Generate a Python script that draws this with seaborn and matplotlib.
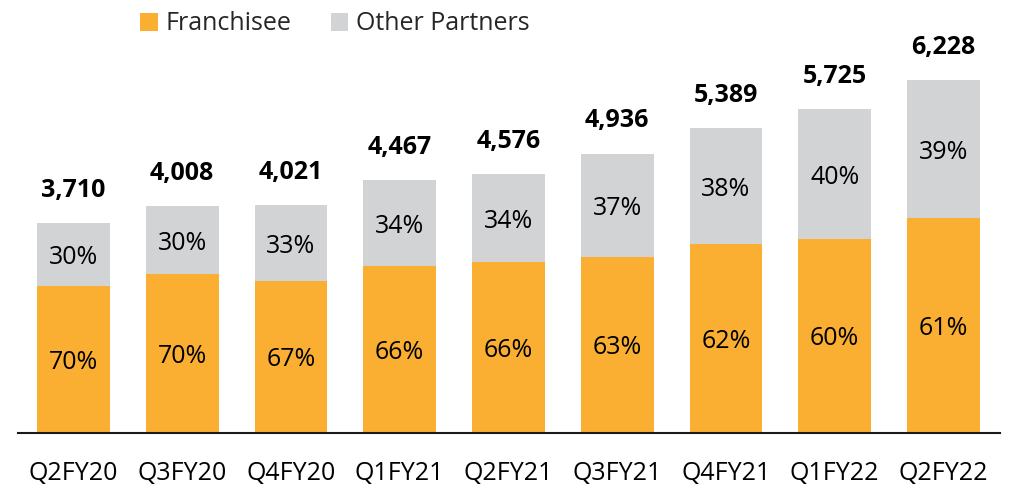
import matplotlib
matplotlib.use("Agg")
import matplotlib.pyplot as plt
import seaborn as sns
import pandas as pd
from matplotlib.patches import Patch

quarters = ["Q2FY20", "Q3FY20", "Q4FY20", "Q1FY21", "Q2FY21",
            "Q3FY21", "Q4FY21", "Q1FY22", "Q2FY22"]
totals = [3710, 4008, 4021, 4467, 4576, 4936, 5389, 5725, 6228]
franchisee_pct = [70, 70, 67, 66, 66, 63, 62, 60, 61]
other_pct = [30, 30, 33, 34, 34, 37, 38, 40, 39]

ORANGE = "#FAAF33"
GREY = "#D2D3D5"

sns.set_theme(style="white")
plt.rcParams["font.family"] = ["Open Sans", "DejaVu Sans"]

df = pd.DataFrame({
    "quarter": quarters,
    "total": totals,
    "franchisee": [t * p / 100 for t, p in zip(totals, franchisee_pct)],
})

fig = plt.figure(figsize=(10.11, 4.84), dpi=100)
ax = fig.add_axes([18 / 1011, 1 - 433 / 484, 982 / 1011, 433 / 484])

# stacked bars: full total in grey, franchisee share on top of it in orange
sns.barplot(data=df, x="quarter", y="total", color=GREY, saturation=1,
            width=0.67, linewidth=0, ax=ax)
sns.barplot(data=df, x="quarter", y="franchisee", color=ORANGE, saturation=1,
            width=0.67, linewidth=0, ax=ax)

for i, row in df.iterrows():
    ax.annotate(f"{row['total']:,}", (i, row["total"]), xytext=(0, 23.5),
                textcoords="offset points", ha="center", va="center",
                fontsize=18, fontweight="bold", color="black")
    ax.annotate(f"{franchisee_pct[i]}%", (i, row["franchisee"] / 2),
                xytext=(0, -2), textcoords="offset points",
                ha="center", va="center", fontsize=18, color="black")
    ax.annotate(f"{other_pct[i]}%", (i, (row["franchisee"] + row["total"]) / 2),
                xytext=(0, -2.5), textcoords="offset points",
                ha="center", va="center", fontsize=18, color="black")

ax.set_xlim(-0.51, 8.52)
ax.set_ylim(0, 7650)
ax.set_yticks([])
ax.set_xlabel("")
ax.set_ylabel("")
for s in ["top", "right", "left"]:
    ax.spines[s].set_visible(False)
ax.spines["bottom"].set_color("#1a1a1a")
ax.spines["bottom"].set_linewidth(1.5)
ax.tick_params(axis="x", length=0, pad=20, labelsize=18, labelcolor="black")

handles = [Patch(facecolor=ORANGE, edgecolor="none", label="Franchisee"),
           Patch(facecolor=GREY, edgecolor="none", label="Other Partners")]
fig.legend(handles=handles, loc="center left",
           bbox_to_anchor=(140 / 1011, 1 - 24 / 484), ncol=2, frameon=False,
           fontsize=18, handlelength=0.7, handleheight=0.7,
           handletextpad=0.3, columnspacing=1.6, borderpad=0, borderaxespad=0)

fig.savefig("out.png", dpi=100)
